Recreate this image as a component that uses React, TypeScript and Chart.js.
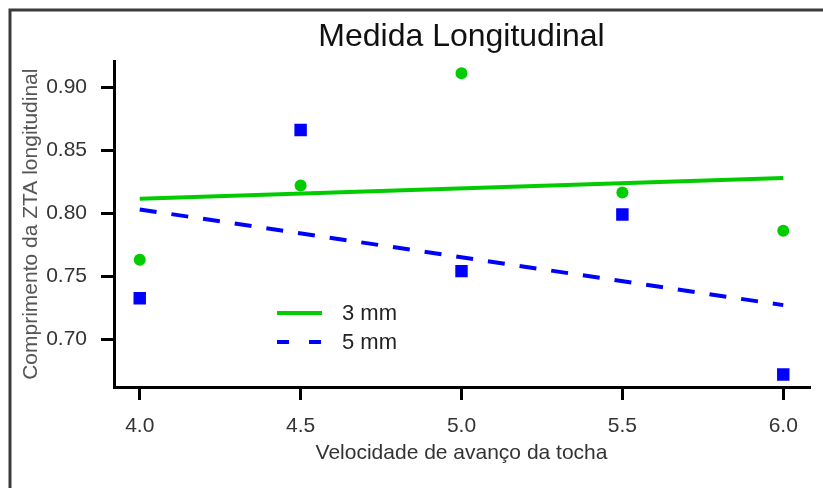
import { useEffect, useRef } from "react";
import { Chart, registerables } from "chart.js";

Chart.register(...registerables);

const chartTitle = "Medida Longitudinal";
const xAxisTitle = "Velocidade de avanço da tocha";
const yAxisTitle = "Comprimento da ZTA longitudinal";
const seriesLabels = ["3 mm", "5 mm"];
const speeds = [4.0, 4.5, 5.0, 5.5, 6.0];
const series3mm = [0.763, 0.822, 0.911, 0.8165, 0.786];
const series5mm = [0.7325, 0.866, 0.754, 0.799, 0.672];
const fitSpeeds = [4.0, 6.0];
const fit3mm = [0.8115, 0.828];
const fit5mm = [0.803, 0.727];
const xTicks = [4.0, 4.5, 5.0, 5.5, 6.0];
const yTicks = [0.7, 0.75, 0.8, 0.85, 0.9];

const FONT = "'Liberation Sans', Arial, sans-serif";
const GREEN = "#00CC00";
const BLUE = "#0000FF";
const DASH = [17, 15];

const framePlugin = {
  id: "frame",
  beforeDraw(chart: any) {
    const ctx = chart.ctx;
    ctx.save();
    ctx.fillStyle = "#ffffff";
    ctx.fillRect(0, 0, chart.width, chart.height);
    ctx.strokeStyle = "#3a3a3a";
    ctx.lineWidth = 3;
    ctx.beginPath();
    ctx.moveTo(10, chart.height + 5);
    ctx.lineTo(10, 10);
    ctx.lineTo(chart.width + 5, 10);
    ctx.stroke();
    ctx.restore();
  },
};

const legendPlugin = {
  id: "innerLegend",
  afterDraw(chart: any) {
    const ctx = chart.ctx;
    const items = [
      { ds: chart.data.datasets[2], y: 313 },
      { ds: chart.data.datasets[3], y: 342 },
    ];
    ctx.save();
    items.forEach((it, i) => {
      ctx.strokeStyle = it.ds.borderColor;
      ctx.lineWidth = 4;
      ctx.setLineDash(i === 1 ? [12, 20] : []);
      ctx.beginPath();
      ctx.moveTo(277, it.y);
      ctx.lineTo(322, it.y);
      ctx.stroke();
      ctx.setLineDash([]);
      ctx.fillStyle = "#222";
      ctx.font = `22px ${FONT}`;
      ctx.textBaseline = "middle";
      ctx.textAlign = "left";
      ctx.fillText(seriesLabels[i], 342, it.y + 1);
    });
    ctx.restore();
  },
};

export default function App() {
  const ref = useRef<HTMLCanvasElement | null>(null);

  useEffect(() => {
    if (!ref.current) return;
    const chart = new Chart(ref.current, {
      type: "scatter",
      data: {
        datasets: [
          {
            label: seriesLabels[0] + " pts",
            data: speeds.map((x, i) => ({ x, y: series3mm[i] })),
            backgroundColor: GREEN,
            borderWidth: 0,
            pointStyle: "circle",
            pointRadius: 6,
            pointHoverRadius: 6,
            order: 1,
          },
          {
            label: seriesLabels[1] + " pts",
            data: speeds.map((x, i) => ({ x, y: series5mm[i] })),
            backgroundColor: BLUE,
            borderWidth: 0,
            pointStyle: "rect",
            pointRadius: 8.8,
            pointHoverRadius: 8.8,
            order: 1,
          },
          {
            label: seriesLabels[0],
            data: fitSpeeds.map((x, i) => ({ x, y: fit3mm[i] })),
            showLine: true,
            borderColor: GREEN,
            backgroundColor: GREEN,
            borderWidth: 4,
            pointRadius: 0,
            pointHoverRadius: 0,
            order: 2,
          },
          {
            label: seriesLabels[1],
            data: fitSpeeds.map((x, i) => ({ x, y: fit5mm[i] })),
            showLine: true,
            borderColor: BLUE,
            backgroundColor: BLUE,
            borderWidth: 4,
            borderDash: DASH,
            pointRadius: 0,
            pointHoverRadius: 0,
            order: 2,
          },
        ],
      } as any,
      options: {
        responsive: false,
        animation: false,
        events: [],
        layout: { padding: { left: 0, right: 14, top: 0, bottom: 0 } },
        plugins: {
          legend: { display: false },
          tooltip: { enabled: false },
          title: {
            display: true,
            text: chartTitle,
            fullSize: false,
            color: "#111",
            font: { family: FONT, size: 32, weight: "normal" },
            padding: { top: 18, bottom: 5 },
          },
        },
        scales: {
          x: {
            type: "linear",
            min: 3.92,
            max: 6.08,
            afterBuildTicks: (s: any) => {
              s.ticks = xTicks.map((v) => ({ value: v }));
            },
            afterFit: (s: any) => {
              s.height = 101;
            },
            ticks: {
              callback: (v: any) => Number(v).toFixed(1),
              color: "#333",
              font: { family: FONT, size: 21 },
              padding: 14,
              maxRotation: 0,
              autoSkip: false,
            },
            grid: {
              display: true,
              drawOnChartArea: false,
              drawTicks: true,
              tickLength: 13,
              color: "#000",
              lineWidth: 3,
            },
            border: { display: true, color: "#000", width: 3 },
            title: {
              display: true,
              text: xAxisTitle,
              color: "#333",
              font: { family: FONT, size: 21 },
              padding: { top: 0, bottom: 22 },
            },
          },
          y: {
            type: "linear",
            min: 0.662,
            max: 0.9205,
            afterBuildTicks: (s: any) => {
              s.ticks = yTicks.map((v) => ({ value: v }));
            },
            afterFit: (s: any) => {
              s.width = 114;
            },
            ticks: {
              callback: (v: any) => Number(v).toFixed(2),
              color: "#333",
              font: { family: FONT, size: 21 },
              padding: 14,
              autoSkip: false,
            },
            grid: {
              display: true,
              drawOnChartArea: false,
              drawTicks: true,
              tickLength: 13,
              color: "#000",
              lineWidth: 3,
            },
            border: { display: true, color: "#000", width: 3 },
            title: {
              display: true,
              text: yAxisTitle,
              color: "#555",
              font: { family: FONT, size: 21 },
              padding: { top: 19, bottom: 0 },
            },
          },
        },
      } as any,
      plugins: [framePlugin, legendPlugin],
    });
    return () => chart.destroy();
  }, []);

  return (
    <div style={{ position: "absolute", left: 0, top: 0, width: 823, height: 488 }}>
      <canvas ref={ref} width={823} height={488} style={{ display: "block" }} />
    </div>
  );
}
